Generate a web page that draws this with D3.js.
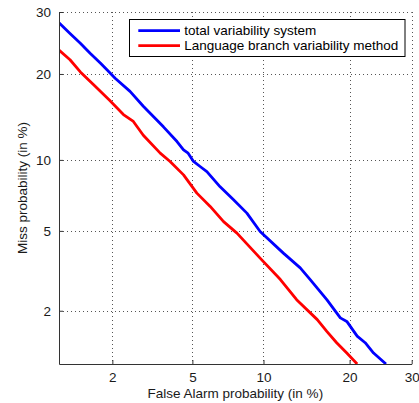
<!DOCTYPE html>
<html>
<head>
<meta charset="utf-8">
<script src="https://cdn.jsdelivr.net/npm/d3@7"></script>
<style>
  html, body { margin: 0; padding: 0; background: #fff; }
  svg { display: block; font-family: "Liberation Sans", Arial, Helvetica, sans-serif; }
</style>
</head>
<body>
<svg id="chart" width="419" height="403"></svg>
<script>
// ---- data (percent) ----
const xTicks = [2, 5, 10, 20, 30];
const yTicks = [2, 5, 10, 20, 30];
const xTickLabels = ["2", "5", "10", "20", "30"];
const yTickLabels = ["2", "5", "10", "20", "30"];
const axisMin = 1, axisMax = 30;

const seriesNames = ["total variability system", "Language branch variability method"];
const seriesColors = ["#0000ff", "#ff0000"];

const blueFA   = [1.0, 1.16, 1.33, 1.51, 1.72, 1.87, 2.07, 2.48, 2.90, 3.65, 4.24, 4.55, 4.78, 5.06, 5.42, 5.81, 6.64, 7.57, 8.59, 9.70, 11.9, 13.7, 14.85, 16.9, 18.7, 19.6, 21.1, 22.3, 23.6, 25.6];
const blueMiss = [28.1, 26.3, 24.7, 23.1, 21.6, 20.6, 19.4, 17.6, 15.7, 13.3, 11.75, 10.94, 10.62, 9.86, 9.42, 8.99, 7.79, 6.87, 6.01, 4.97, 3.93, 3.33, 2.91, 2.29, 1.83, 1.75, 1.45, 1.33, 1.16, 1.0];

const redFA   = [1.0, 1.16, 1.33, 1.58, 1.92, 2.29, 2.58, 2.90, 3.52, 3.93, 4.55, 5.24, 6.01, 6.87, 7.82, 9.70, 11.6, 13.3, 15.7, 16.9, 18.2, 19.6, 21.1];
const redMiss = [23.6, 22.1, 20.3, 18.5, 16.5, 14.7, 13.9, 12.4, 10.62, 9.86, 8.72, 7.33, 6.43, 5.51, 4.88, 3.72, 2.91, 2.29, 1.79, 1.54, 1.33, 1.16, 1.0];

// ---- probit (inverse normal CDF, Acklam) ----
function probit(p) {
  const a = [-3.969683028665376e+01, 2.209460984245205e+02, -2.759285104469687e+02, 1.383577518672690e+02, -3.066479806614716e+01, 2.506628277459239e+00];
  const b = [-5.447609879822406e+01, 1.615858368580409e+02, -1.556989798598866e+02, 6.680131188771972e+01, -1.328068155288572e+01];
  const c = [-7.784894002430293e-03, -3.223964580411365e-01, -2.400758277161838e+00, -2.549671010196000e+00, 4.374664141464968e+00, 2.938163982698783e+00];
  const d = [7.784695709041462e-03, 3.224671290700398e-01, 2.445134137142996e+00, 3.754408661907416e+00];
  const pl = 0.02425, ph = 1 - pl;
  let q, r;
  if (p < pl) {
    q = Math.sqrt(-2 * Math.log(p));
    return (((((c[0]*q+c[1])*q+c[2])*q+c[3])*q+c[4])*q+c[5]) / ((((d[0]*q+d[1])*q+d[2])*q+d[3])*q+1);
  } else if (p <= ph) {
    q = p - 0.5; r = q * q;
    return (((((a[0]*r+a[1])*r+a[2])*r+a[3])*r+a[4])*r+a[5])*q / (((((b[0]*r+b[1])*r+b[2])*r+b[3])*r+b[4])*r+1);
  } else {
    q = Math.sqrt(-2 * Math.log(1 - p));
    return -(((((c[0]*q+c[1])*q+c[2])*q+c[3])*q+c[4])*q+c[5]) / ((((d[0]*q+d[1])*q+d[2])*q+d[3])*q+1);
  }
}
const pz = v => probit(v / 100);

// ---- layout ----
const mLeft = 59, mRight = 411.7, mTop = 12, mBottom = 364;
const svg = d3.select("#chart");
const fontSize = 13.5;

const x = d3.scaleLinear().domain([pz(axisMin), pz(axisMax)]).range([mLeft, mRight]);
const y = d3.scaleLinear().domain([pz(axisMin), pz(axisMax)]).range([mBottom, mTop]);

// grid (dotted)
const grid = svg.append("g").attr("stroke", "#555").attr("stroke-width", 1).attr("stroke-dasharray", "1,3");
xTicks.forEach(t => {
  grid.append("line").attr("x1", Math.round(x(pz(t))) + 0.5).attr("x2", Math.round(x(pz(t))) + 0.5)
    .attr("y1", mTop).attr("y2", mBottom);
});
yTicks.forEach(t => {
  grid.append("line").attr("y1", Math.round(y(pz(t))) + 0.5).attr("y2", Math.round(y(pz(t))) + 0.5)
    .attr("x1", mLeft).attr("x2", mRight);
});

// clip
svg.append("clipPath").attr("id", "plotclip").append("rect")
  .attr("x", mLeft).attr("y", mTop).attr("width", mRight - mLeft).attr("height", mBottom - mTop);

const line = d3.line().x(d => x(pz(d[0]))).y(d => y(pz(d[1])));
const series = [
  { fa: blueFA, miss: blueMiss },
  { fa: redFA, miss: redMiss }
];
const plot = svg.append("g").attr("clip-path", "url(#plotclip)");
series.forEach((s, i) => {
  plot.append("path")
    .datum(s.fa.map((v, j) => [v, s.miss[j]]))
    .attr("fill", "none")
    .attr("stroke", seriesColors[i])
    .attr("stroke-width", 2.8)
    .attr("stroke-linejoin", "round")
    .attr("d", line);
});

// axes
const xAxis = d3.axisBottom(x)
  .tickValues(xTicks.map(pz))
  .tickFormat((d, i) => xTickLabels[i])
  .tickSizeInner(-4).tickSizeOuter(0).tickPadding(8);
const yAxis = d3.axisLeft(y)
  .tickValues(yTicks.map(pz))
  .tickFormat((d, i) => yTickLabels[i])
  .tickSizeInner(-4).tickSizeOuter(0).tickPadding(8);

const gx = svg.append("g").attr("transform", `translate(0,${mBottom})`).call(xAxis);
const gy = svg.append("g").attr("transform", `translate(${mLeft},0)`).call(yAxis);
[gx, gy].forEach(g => {
  g.select(".domain").attr("stroke", "#333");
  g.selectAll(".tick line").attr("stroke", "#333");
  g.selectAll(".tick text").attr("fill", "#1a1a1a").style("font-size", fontSize + "px")
    .style("font-family", '"Liberation Sans", Arial, sans-serif');
});

// axis labels
svg.append("text")
  .attr("x", (mLeft + mRight) / 2).attr("y", 397.5)
  .attr("text-anchor", "middle").attr("fill", "#1a1a1a")
  .style("font-size", fontSize + "px")
  .text("False Alarm probability (in %)");
svg.append("text")
  .attr("transform", `translate(26.5,${(mTop + mBottom) / 2}) rotate(-90)`)
  .attr("text-anchor", "middle").attr("fill", "#1a1a1a")
  .style("font-size", fontSize + "px")
  .text("Miss probability (in %)");

// legend
const lg = svg.append("g");
lg.append("rect").attr("x", 129.5).attr("y", 19.5).attr("width", 275.5).attr("height", 37)
  .attr("fill", "#fff").attr("stroke", "#000").attr("stroke-width", 1);
const legendY = [30.7, 45.7];
seriesNames.forEach((name, i) => {
  lg.append("line").attr("x1", 138.3).attr("x2", 180).attr("y1", legendY[i]).attr("y2", legendY[i])
    .attr("stroke", seriesColors[i]).attr("stroke-width", 2.8);
  lg.append("text").attr("x", 184.3).attr("y", legendY[i]).attr("dy", "0.35em")
    .attr("fill", "#000").style("font-size", fontSize + "px").text(name);
});
</script>
</body>
</html>
